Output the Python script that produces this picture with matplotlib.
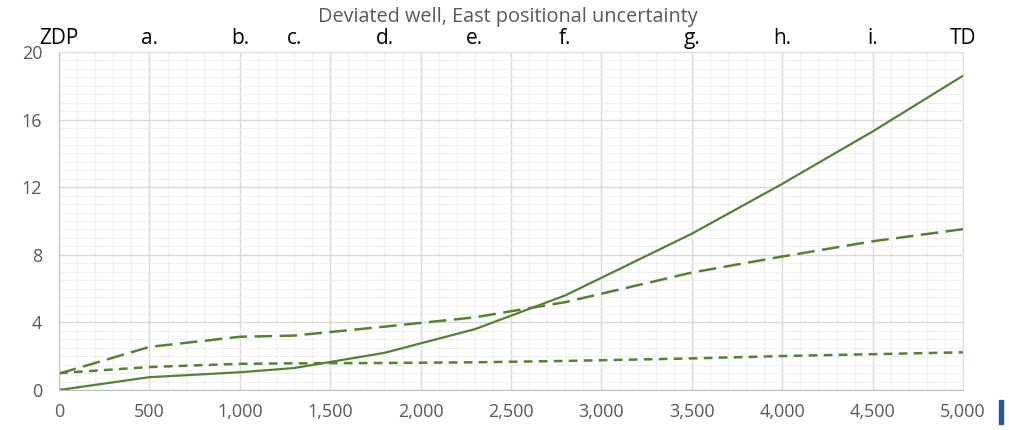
import matplotlib
matplotlib.use("Agg")
import matplotlib.pyplot as plt
from matplotlib.ticker import MultipleLocator, FuncFormatter
from matplotlib.patches import Rectangle

# measured depth along the well and the three uncertainty curves
depth = [0, 500, 1000, 1300, 1800, 2300, 2800, 3500, 4000, 4500, 5000]
solid_vals = [0.0, 0.76, 1.05, 1.3, 2.2, 3.6, 5.6, 9.25, 12.2, 15.3, 18.6]
long_dash_vals = [0.97, 2.55, 3.15, 3.22, 3.75, 4.3, 5.2, 6.95, 7.9, 8.8, 9.52]
short_dash_vals = [1.0, 1.36, 1.55, 1.58, 1.6, 1.64, 1.72, 1.87, 2.01, 2.12, 2.23]
point_labels = ["ZDP", "a.", "b.", "c.", "d.", "e.", "f.", "g.", "h.", "i.", "TD"]

GREEN = "#548235"
plt.rcParams["font.family"] = ["Open Sans", "DejaVu Sans"]

fig = plt.figure(figsize=(10.09, 4.30), dpi=100)
ax = fig.add_axes([0.0585, 0.093, 0.896, 0.786])

ax.plot(depth, solid_vals, color=GREEN, lw=1.6)
ax.plot(depth, long_dash_vals, color=GREEN, lw=1.8, dashes=(7, 3))
ax.plot(depth, short_dash_vals, color=GREEN, lw=1.8, dashes=(3.5, 2.5))

ax.set_xlim(0, 5000)
ax.set_ylim(0, 20)
ax.xaxis.set_major_locator(MultipleLocator(500))
ax.xaxis.set_minor_locator(MultipleLocator(100))
ax.yaxis.set_major_locator(MultipleLocator(4))
ax.yaxis.set_minor_locator(MultipleLocator(0.5))
ax.xaxis.set_major_formatter(FuncFormatter(lambda v, p: f"{int(v):,}"))
ax.grid(which="major", color="#d9d9d9", lw=1.0)
ax.grid(which="minor", color="#f0f0f0", lw=0.9)
ax.set_axisbelow(True)
ax.tick_params(which="both", length=0, colors="#595959", labelsize=13)
ax.tick_params(axis="x", pad=9)
ax.tick_params(axis="y", pad=12)
for side in ("top", "right"):
    ax.spines[side].set_color("#e0e0e0")
for side in ("left", "bottom"):
    ax.spines[side].set_color("#bfbfbf")

for x, lbl in zip(depth, point_labels):
    ax.text(x, 20.15, lbl, ha="center", va="bottom", fontsize=15, color="black")

fig.text(0.503, 0.96, "Deviated well, East positional uncertainty",
         ha="center", va="center", fontsize=14.3, color="#595959")

# small blue marker at the lower right edge
fig.patches.append(Rectangle((0.9905, 0.015), 0.0035, 0.055, transform=fig.transFigure,
                             color="#2f5597"))

fig.savefig("out.png", dpi=100)
